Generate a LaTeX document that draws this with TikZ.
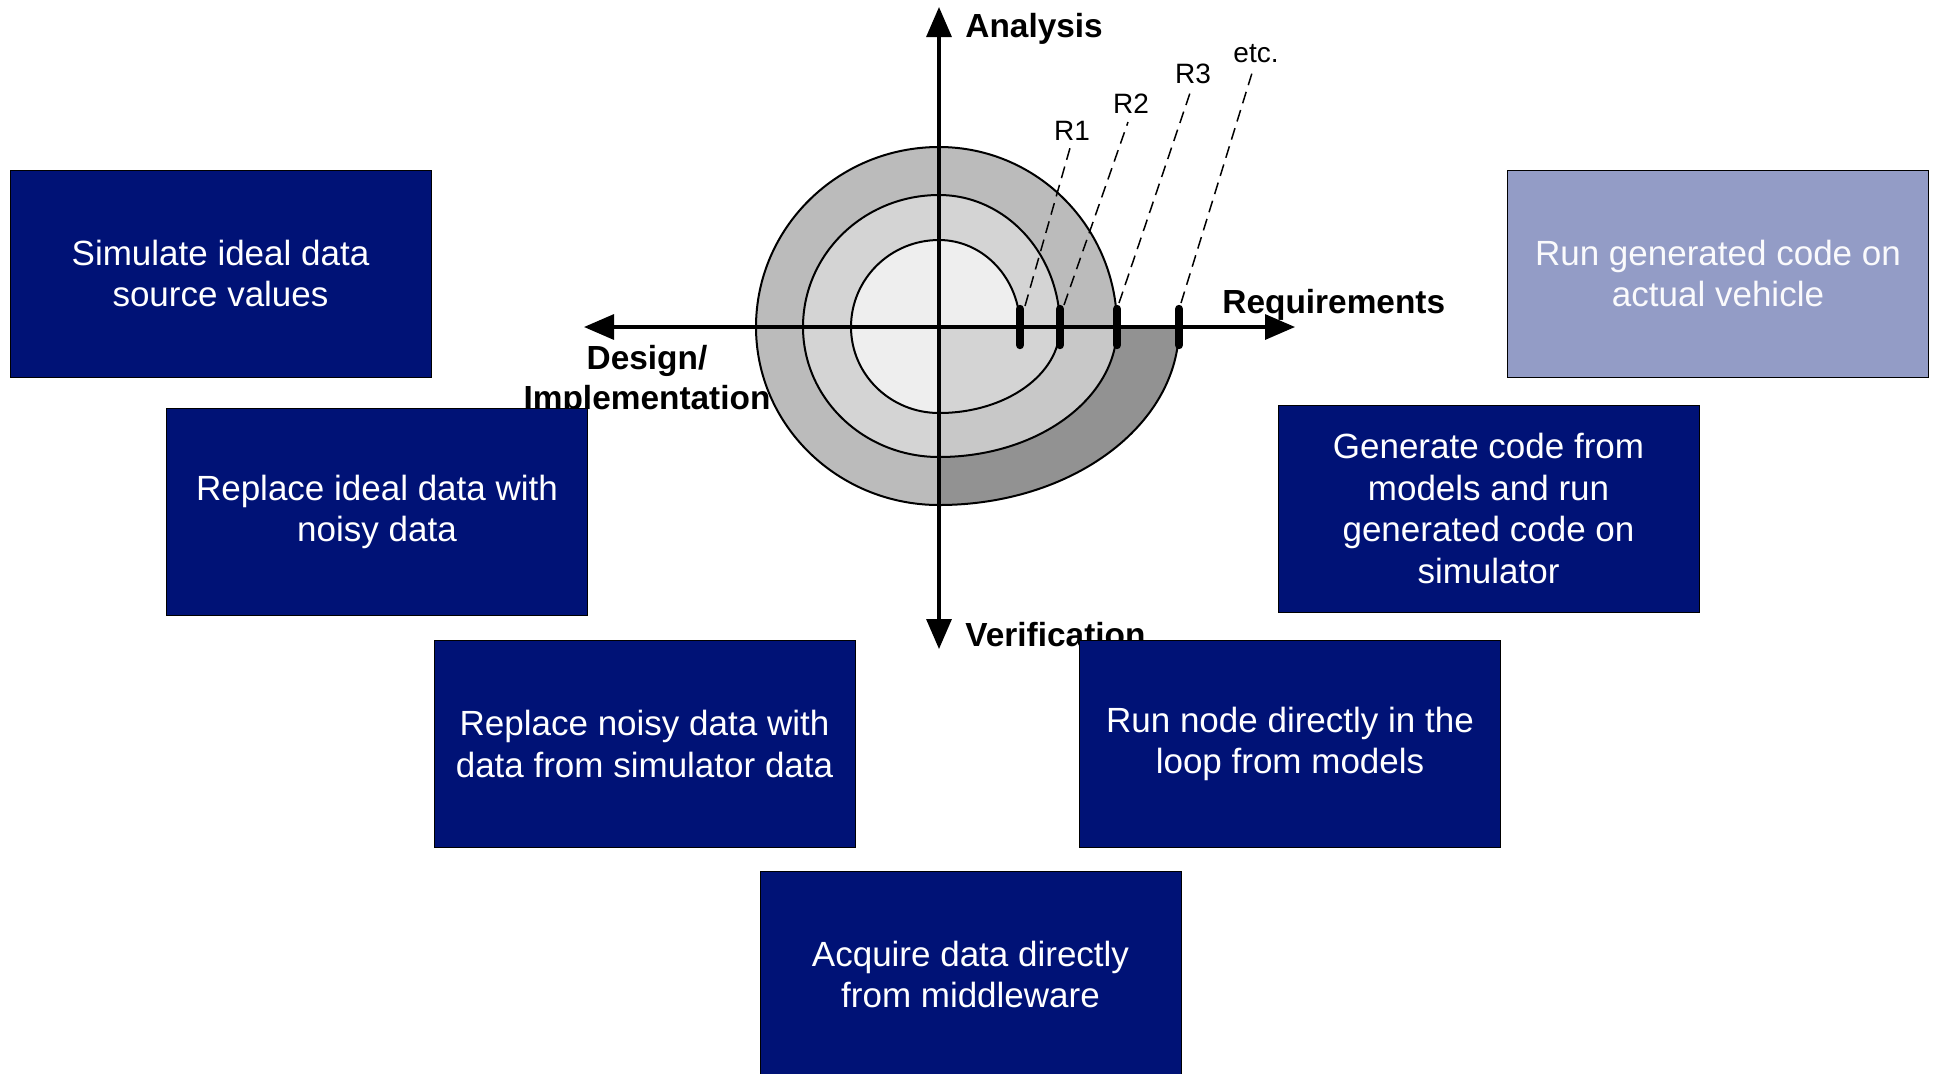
\documentclass[tikz,border=0pt]{standalone}
\usepackage{fontspec}
\setmainfont{Liberation Sans}
\usetikzlibrary{arrows.meta}
\definecolor{navy}{RGB}{0,18,118}
\definecolor{lightnavy}{RGB}{147,156,198}
\definecolor{gA}{HTML}{EEEEEE}
\definecolor{gB}{HTML}{D4D4D4}
\definecolor{gC}{HTML}{BBBBBB}
\definecolor{gD}{HTML}{C8C8C8}
\definecolor{gE}{HTML}{929292}
\begin{document}
\begin{tikzpicture}[x=0.5pt,y=-0.5pt,
 box/.style={draw=black, line width=0.5pt, fill=navy, text=white, minimum width=210.5pt, minimum height=103.5pt, inner sep=0pt, align=center, font=\fontsize{17.5}{20.8}\selectfont},
 lightbox/.style={box, fill=lightnavy, text=white!95!lightnavy},
 axisline/.style={line width=1.65pt, >={Triangle[length=15pt,width=12.5pt]}, <->},
 axislabel/.style={font=\bfseries\fontsize{16.7}{20}\selectfont, inner sep=0pt, align=center},
 rlabel/.style={font=\fontsize{14}{16}\selectfont, inner sep=0pt},
 marker/.style={line width=4.2pt, line cap=round},
 leader/.style={line width=0.75pt, dash pattern=on 6pt off 3.5pt},
 spiralline/.style={line width=1pt}]
\useasboundingbox (0,0) rectangle (1937,1073);
\fill[white] (0,0) rectangle (1937,1073);

% ---- spiral fills, quadrant by quadrant, outer to inner
% Q1
\fill[gC] (939,327)--(1117,327) .. controls (1117,227.59) and (1037.31,147) .. (939,147) -- cycle;
\fill[gB] (939,327)--(1060,327) .. controls (1060,254.1) and (1005.83,195) .. (939,195) -- cycle;
\fill[gA] (939,327)--(1020,327) .. controls (1020,278.95) and (983.74,240) .. (939,240) -- cycle;
% Q2
\fill[gC] (939,327)--(939,147) .. controls (837.93,147) and (756,227.59) .. (756,327) -- cycle;
\fill[gB] (939,327)--(939,195) .. controls (863.89,195) and (803,254.1) .. (803,327) -- cycle;
\fill[gA] (939,327)--(939,240) .. controls (890.4,240) and (851,278.95) .. (851,327) -- cycle;
% Q3
\fill[gC] (939,327)--(756,327) .. controls (756,425.31) and (837.93,505) .. (939,505) -- cycle;
\fill[gB] (939,327)--(803,327) .. controls (803,398.8) and (863.89,457) .. (939,457) -- cycle;
\fill[gA] (939,327)--(851,327) .. controls (851,374.5) and (890.4,413) .. (939,413) -- cycle;
% Q4
\fill[gE] (939,327)--(939,505) .. controls (1071.55,505) and (1179,425.31) .. (1179,327) -- cycle;
\fill[gD] (939,327)--(939,457) .. controls (1037.31,457) and (1117,398.8) .. (1117,327) -- cycle;
\fill[gB] (939,327)--(939,413) .. controls (1005.83,413) and (1060,374.5) .. (1060,327) -- cycle;

% ---- spiral line
\draw[spiralline] (1020,327)
  .. controls (1020,278.95) and (983.74,240) .. (939,240)
  .. controls (890.4,240) and (851,278.95) .. (851,327)
  .. controls (851,374.5) and (890.4,413) .. (939,413)
  .. controls (1005.83,413) and (1060,374.5) .. (1060,327)
  .. controls (1060,254.1) and (1005.83,195) .. (939,195)
  .. controls (863.89,195) and (803,254.1) .. (803,327)
  .. controls (803,398.8) and (863.89,457) .. (939,457)
  .. controls (1037.31,457) and (1117,398.8) .. (1117,327)
  .. controls (1117,227.59) and (1037.31,147) .. (939,147)
  .. controls (837.93,147) and (756,227.59) .. (756,327)
  .. controls (756,425.31) and (837.93,505) .. (939,505)
  .. controls (1071.55,505) and (1179,425.31) .. (1179,327);

% ---- axes
\coordinate (ytop) at (939,7);
\coordinate (ybot) at (939,649);
\coordinate (xleft) at (584,327);
\coordinate (xright) at (1295,327);
\draw[axisline] (ybot) -- (ytop);
\draw[axisline] (xleft) -- (xright);

% ---- release markers
\foreach \mx in {1020,1060,1117,1179}{
  \draw[marker] (\mx,309) -- (\mx,345);
}

% ---- release labels and leaders
\node[rlabel] (r1) at (1072,131) {R1};
\node[rlabel] (r2) at (1131,104) {R2};
\node[rlabel] (r3) at (1193,74) {R3};
\node[rlabel] (r4) at (1256,54) {etc.};
\coordinate (a1) at (1025,306); \coordinate (b1) at (1070,148);
\coordinate (a2) at (1064,305); \coordinate (b2) at (1128,122);
\coordinate (a3) at (1119,303); \coordinate (b3) at (1190,93);
\coordinate (a4) at (1181,303); \coordinate (b4) at (1252,73);
\draw[leader] (a1) -- (b1);
\draw[leader] (a2) -- (b2);
\draw[leader] (a3) -- (b3);
\draw[leader] (a4) -- (b4);

% ---- axis labels
\node[axislabel, anchor=west] (lana) at (965,29) {Analysis};
\node[axislabel, anchor=west] (lreq) at (1222,305) {Requirements};
\node[axislabel, anchor=west] (lver) at (965,635) {Verification};
\node[axislabel] (ldes) at (647,381) {Design/\\Implementation};

% ---- boxes
\node[box] (b1box) at (220.5,273.5) {Simulate ideal data\\source values};
\node[box] (b2box) at (377,512) {Replace ideal data with\\noisy data};
\node[box] (b3box) at (644.5,744) {Replace noisy data with\\data from simulator data};
\node[box] (b4box) at (970.5,974.5) {Acquire data directly\\from middleware};
\node[box] (b5box) at (1290,744) {Run node directly in the\\loop from models};
\node[box] (b6box) at (1488.5,508.5) {Generate code from\\models and run\\generated code on\\simulator};
\node[lightbox] (b7box) at (1718,273.5) {Run generated code on\\actual vehicle};
\end{tikzpicture}
\end{document}
